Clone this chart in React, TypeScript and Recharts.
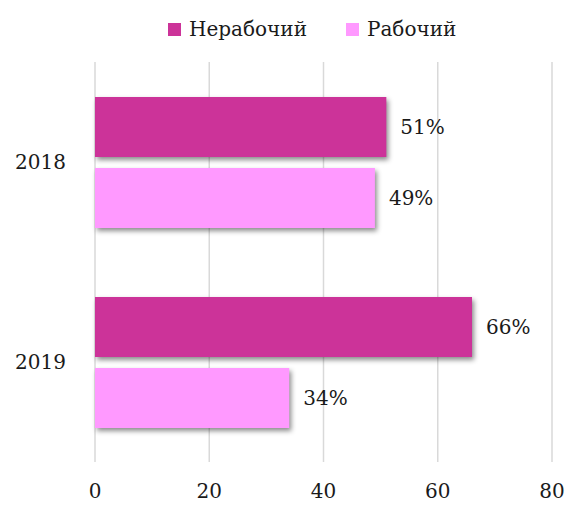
import React from 'react';
import { BarChart, Bar, XAxis, YAxis, CartesianGrid, Legend, LabelList } from 'recharts';

const years = ['2018', '2019'];
const nonWorking = [51, 66];
const working = [49, 34];
const xTicks = [0, 20, 40, 60, 80];

const data = years.map((y, i) => ({ year: y, nonWorking: nonWorking[i], working: working[i] }));

const FONT = "'DejaVu Serif', 'Liberation Serif', serif";
const FS = 20;

const ShadowRect = (props: any) => {
  const { x, y, width, height, fill } = props;
  return (
    <rect
      x={x}
      y={y}
      width={width}
      height={height}
      fill={fill}
      style={{ filter: 'drop-shadow(2px 3px 2.5px rgba(0,0,0,0.45))' }}
    />
  );
};

const LegendContent = (props: any) => {
  const payload = props.payload || [];
  return (
    <div style={{ display: 'flex', alignItems: 'center', fontFamily: FONT, fontSize: FS, color: '#1a1a1a', lineHeight: '28px' }}>
      {payload.map((p: any, i: number) => (
        <div key={i} style={{ display: 'flex', alignItems: 'center', marginRight: i === 0 ? 39 : 0 }}>
          <span style={{ display: 'inline-block', width: 13, height: 13, background: p.color, marginRight: 8 }} />
          <span>{p.value}</span>
        </div>
      ))}
    </div>
  );
};

export default function App() {
  return (
    <div style={{ position: 'absolute', left: 0, top: 0, background: '#fff', fontFamily: FONT }}>
      <BarChart
        width={566}
        height={505}
        data={data}
        layout="vertical"
        margin={{ top: 34, right: 14, bottom: 0, left: 0 }}
        barSize={60}
        barGap={11}
        style={{ fontFamily: FONT }}
      >
        <CartesianGrid horizontal={false} stroke="#d9d9d9" strokeWidth={1.5} />
        <XAxis
          type="number"
          domain={[0, 80]}
          ticks={xTicks}
          axisLine={false}
          tickLine={false}
          tickSize={0}
          tickMargin={22}
          height={43}
          interval={0}
          tick={{ fill: '#1a1a1a', fontSize: FS, fontFamily: FONT }}
        />
        <YAxis
          type="category"
          dataKey="year"
          width={95}
          axisLine={false}
          tickLine={false}
          tickSize={0}
          tickMargin={29}
          tick={{ fill: '#1a1a1a', fontSize: FS, fontFamily: FONT }}
        />
        <Legend
          verticalAlign="top"
          align="left"
          content={LegendContent}
          wrapperStyle={{ top: 15, left: 168, width: 'auto' }}
        />
        <Bar dataKey="nonWorking" name="Нерабочий" fill="#CC3399" isAnimationActive={false} shape={ShadowRect}>
          <LabelList
            dataKey="nonWorking"
            position="right"
            offset={14}
            formatter={(v: any) => `${v}%`}
            style={{ fill: '#1a1a1a', fontSize: FS, fontFamily: FONT }}
          />
        </Bar>
        <Bar dataKey="working" name="Рабочий" fill="#FF99FF" isAnimationActive={false} shape={ShadowRect}>
          <LabelList
            dataKey="working"
            position="right"
            offset={14}
            formatter={(v: any) => `${v}%`}
            style={{ fill: '#1a1a1a', fontSize: FS, fontFamily: FONT }}
          />
        </Bar>
      </BarChart>
    </div>
  );
}
